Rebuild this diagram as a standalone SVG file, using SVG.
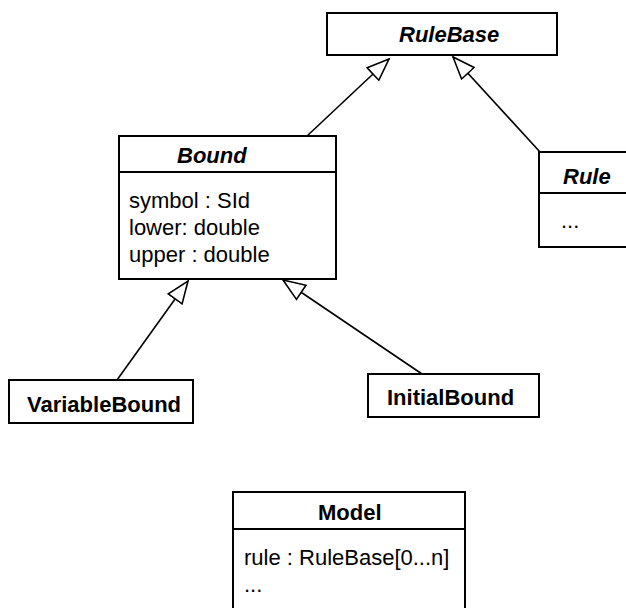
<svg xmlns="http://www.w3.org/2000/svg" width="626" height="608" viewBox="0 0 626 608">
<style>
.box{fill:#fff;stroke:#000;stroke-width:2}
.div{stroke:#000;stroke-width:2}
.t{font-family:"Liberation Sans",Arial,sans-serif;font-size:22px;fill:#000}
.ti{font-weight:bold;font-style:italic}
.tb{font-weight:bold}
.conn{stroke:#000;stroke-width:1.6;fill:none;marker-end:url(#gen)}
</style>
<defs>
<marker id="gen" markerUnits="userSpaceOnUse" viewBox="-1 -1 24 19" markerWidth="24" markerHeight="19" refX="22" refY="8.5" orient="auto">
<path d="M0,0 L22,8.5 L0,17 Z" fill="#fff" stroke="#000" stroke-width="1.6" stroke-linejoin="miter"/>
</marker>
</defs>
<rect width="626" height="608" fill="#fff"/>
<g id="RuleBase">
<rect class="box" x="327" y="13" width="230" height="42"/>
<text class="t ti" x="399" y="42">RuleBase</text>
</g>
<g id="Bound">
<rect class="box" x="119" y="136" width="217" height="143"/>
<line class="div" x1="119" y1="172" x2="336" y2="172"/>
<text class="t ti" x="177" y="163">Bound</text>
<text class="t" x="129" y="208">symbol : SId</text>
<text class="t" x="129" y="235">lower: double</text>
<text class="t" x="129" y="262">upper : double</text>
</g>
<g id="Rule">
<rect class="box" x="539" y="152" width="100" height="95"/>
<line class="div" x1="539" y1="193" x2="639" y2="193"/>
<text class="t ti" x="563" y="184">Rule</text>
<text class="t" x="561" y="228">...</text>
</g>
<g id="VariableBound">
<rect class="box" x="9" y="380" width="184" height="43"/>
<text class="t tb" x="27" y="412">VariableBound</text>
</g>
<g id="InitialBound">
<rect class="box" x="368" y="374" width="171" height="43"/>
<text class="t tb" x="387" y="405">InitialBound</text>
</g>
<g id="Model">
<rect class="box" x="233" y="492" width="232" height="122"/>
<line class="div" x1="233" y1="529" x2="465" y2="529"/>
<text class="t tb" x="318" y="520">Model</text>
<text class="t" x="244" y="565">rule : RuleBase[0...n]</text>
<text class="t" x="244" y="592">...</text>
</g>
<g id="connectors">
<line class="conn" x1="307" y1="136" x2="389" y2="59"/>
<line class="conn" x1="540" y1="152" x2="453" y2="57"/>
<line class="conn" x1="117" y1="380" x2="188" y2="281"/>
<line class="conn" x1="422" y1="374" x2="283" y2="280"/>
</g>
</svg>
